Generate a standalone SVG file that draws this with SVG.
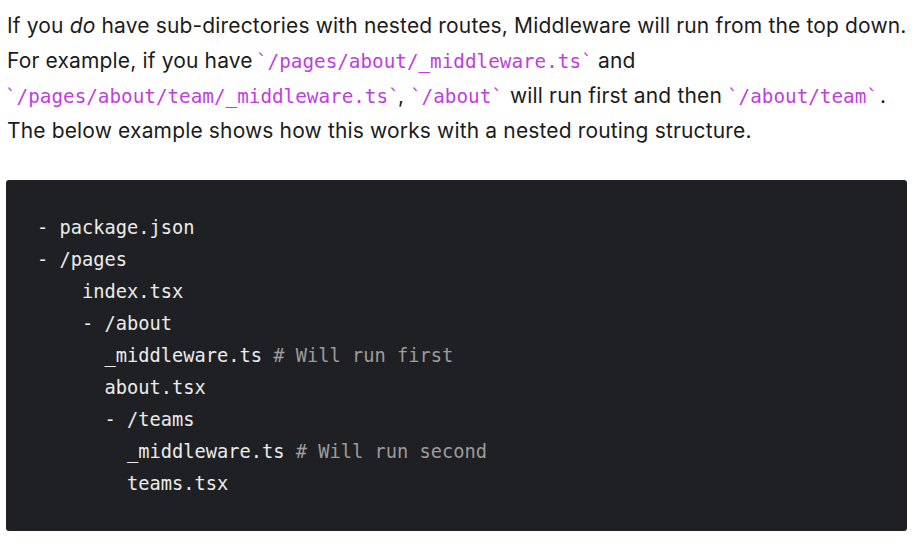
<svg xmlns="http://www.w3.org/2000/svg" width="919" height="544" viewBox="0 0 919 544">
<style>
.p{font-family:Inter,"Liberation Sans",sans-serif;font-size:21px;letter-spacing:0.15px;fill:#1c1c1c}
.ic{font-family:"DejaVu Sans Mono","Liberation Mono",monospace;font-size:19.3px;fill:#c13de3}
.c{font-family:"DejaVu Sans Mono","Liberation Mono",monospace;font-size:18.7px;fill:#ececec;white-space:pre}
.cm{fill:#9c9c9c}
</style>
<rect width="919" height="544" fill="#ffffff"/>
<g id="paragraph">
<text class="p" x="7" y="33">If you <tspan font-style="italic">do</tspan> have sub-directories with nested routes, Middleware will run from the top down.</text>
<text class="p" x="7" y="68">For example, if you have</text>
<text class="ic" x="256" y="68">`/pages/about/_middleware.ts`</text>
<text class="p" x="598" y="68">and</text>
<text class="ic" x="5" y="103">`/pages/about/team/_middleware.ts`</text>
<text class="p" x="398" y="103">,</text>
<text class="ic" x="410" y="103">`/about`</text>
<text class="p" x="510" y="103">will run first and then</text>
<text class="ic" x="727" y="103">`/about/team`</text>
<text class="p" x="880" y="103">.</text>
<text class="p" x="7" y="138">The below example shows how this works with a nested routing structure.</text>
</g>
<g id="code-block">
<rect x="6" y="180" width="901" height="351" rx="3" fill="#1f2023"/>
<text class="c" x="37" y="234">- package.json</text>
<text class="c" x="37" y="266">- /pages</text>
<text class="c" x="37" y="298">    index.tsx</text>
<text class="c" x="37" y="330">    - /about</text>
<text class="c" x="37" y="362">      _middleware.ts <tspan class="cm"># Will run first</tspan></text>
<text class="c" x="37" y="394">      about.tsx</text>
<text class="c" x="37" y="426">      - /teams</text>
<text class="c" x="37" y="458">        _middleware.ts <tspan class="cm"># Will run second</tspan></text>
<text class="c" x="37" y="490">        teams.tsx</text>
</g>
</svg>
